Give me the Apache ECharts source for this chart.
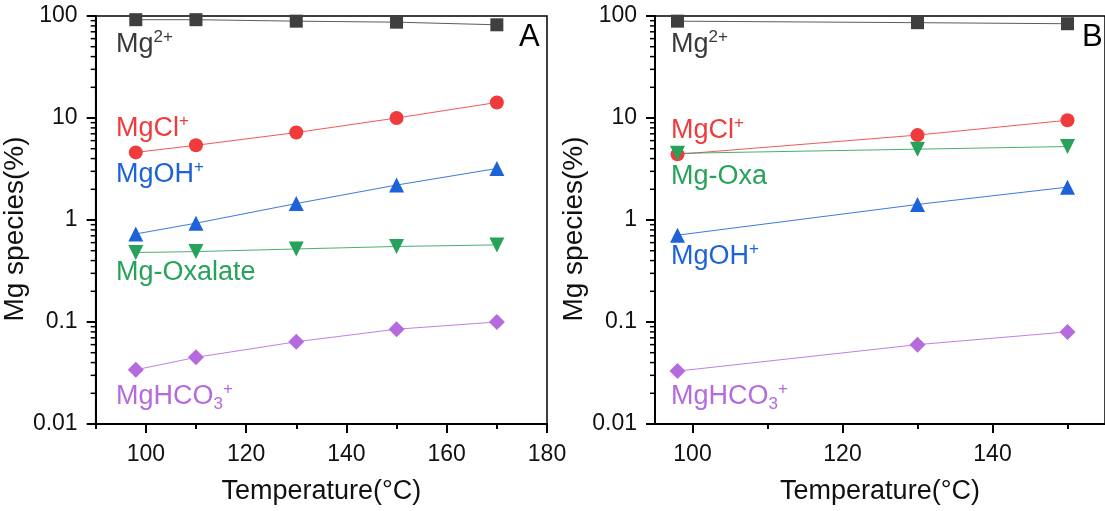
<!DOCTYPE html>
<html>
<head>
<meta charset="utf-8">
<script src="https://cdn.jsdelivr.net/npm/echarts@6/dist/echarts.min.js"></script>
<style>
  html, body { margin: 0; padding: 0; background: #fff; }
  #chart { width: 1105px; height: 511px; }
</style>
</head>
<body>
<div id="chart"></div>
<script>
// panel A: temperatures and species (%)
const tempA = [98, 110, 130, 150, 170]
const mg2A = [92, 92, 89, 87, 82]
const mgclA = [4.6, 5.4, 7.2, 10, 14.2]
const mgohA = [0.73, 0.93, 1.45, 2.2, 3.2]
const oxaA = [0.48, 0.49, 0.52, 0.55, 0.57]
const hco3A = [0.034, 0.045, 0.064, 0.085, 0.10]

// panel B
const tempB = [98, 130, 150]
const mg2B = [89, 86, 84]
const mgclB = [4.4, 6.8, 9.5]
const oxaB = [4.5, 4.95, 5.25]
const mgohB = [0.71, 1.42, 2.1]
const hco3B = [0.033, 0.06, 0.08]

// ticks
const xTicksA = [100, 120, 140, 160, 180]
const xMinorA = [90, 110, 130, 150, 170]
const xTicksB = [100, 120, 140]
const xMinorB = [110, 130, 150]
const yTicks = [0.01, 0.1, 1, 10, 100]
const yTickLabels = ['0.01', '0.1', '1', '10', '100']
const yMinor = [
  0.02, 0.03, 0.04, 0.05, 0.06, 0.07, 0.08, 0.09,
  0.2, 0.3, 0.4, 0.5, 0.6, 0.7, 0.8, 0.9,
  2, 3, 4, 5, 6, 7, 8, 9,
  20, 30, 40, 50, 60, 70, 80, 90
]

const ff = "'Liberation Sans', Arial, sans-serif"
const black = '#000'

const colors = {
  mg2: '#3f3f3f',
  mgcl: '#ef3b3b',
  mgoh: '#1c62d9',
  oxa: '#27a25b',
  hco3: '#b56ade'
}

function pairs(xs, ys) {
  return xs.map((x, i) => [x, ys[i]])
}

function xMain(grid, min, max, ticks) {
  return {
    type: 'value', gridIndex: grid, min: min, max: max, position: 'bottom',
    axisLine: { onZero: false, lineStyle: { color: black, width: 2 } },
    axisTick: { customValues: ticks, length: 9, lineStyle: { color: black, width: 2 } },
    axisLabel: { customValues: ticks, fontSize: 23, color: '#111', fontFamily: ff, margin: 19 },
    splitLine: { show: false },
    name: 'Temperature(°C)', nameLocation: 'middle', nameGap: 54,
    nameTextStyle: { fontSize: 27, color: '#111', fontFamily: ff }
  }
}

function xMinor(grid, min, max, ticks) {
  return {
    type: 'value', gridIndex: grid, min: min, max: max, position: 'bottom',
    axisLine: { show: false, onZero: false },
    axisTick: { customValues: ticks, length: 5, lineStyle: { color: black, width: 2 } },
    axisLabel: { show: false },
    splitLine: { show: false }
  }
}

function yMain(grid) {
  return {
    type: 'log', logBase: 10, gridIndex: grid, min: 0.01, max: 100, position: 'left',
    axisLine: { show: true, onZero: false, lineStyle: { color: black, width: 2 } },
    axisTick: { show: true, length: 9, lineStyle: { color: black, width: 2 } },
    axisLabel: {
      fontSize: 23, color: '#111', fontFamily: ff, margin: 18,
      formatter: v => yTickLabels[yTicks.findIndex(t => Math.abs(t - v) / t < 1e-6)] || ''
    },
    splitLine: { show: false },
    name: 'Mg species(%)', nameLocation: 'middle', nameGap: 53,
    nameTextStyle: { fontSize: 28, color: '#111', fontFamily: ff, padding: [0, 18, 0, 0] }
  }
}

function line(name, grid, xs, ys, color, symbol, size, rotate) {
  return {
    name: name, type: 'line', xAxisIndex: grid, yAxisIndex: grid,
    data: pairs(xs, ys),
    symbol: symbol, symbolSize: size, symbolRotate: rotate || 0, showSymbol: true,
    itemStyle: { color: color, opacity: 1 },
    lineStyle: { color: color, width: 1, opacity: 0.85 },
    z: 3
  }
}

// short minor ticks on the log axis, placed through the axis scale
function minorTicks(grid, xMin) {
  return {
    type: 'custom', coordinateSystem: 'cartesian2d', xAxisIndex: grid, yAxisIndex: grid,
    silent: true, clip: false, z: 20,
    encode: { x: 0, y: 1 },
    data: yMinor.map(v => [xMin, v]),
    renderItem: function (params, api) {
      const p = api.coord([api.value(0), api.value(1)])
      return {
        type: 'line',
        shape: { x1: p[0] - 5, y1: p[1], x2: p[0], y2: p[1] },
        style: { stroke: black, lineWidth: 1.5 }
      }
    }
  }
}

// annotation text with super/subscripts
const rich = {
  m: { fontSize: 27, lineHeight: 32, fontFamily: ff },
  s: { fontSize: 17, lineHeight: 16, fontFamily: ff, verticalAlign: 'top' },
  b: { fontSize: 17, lineHeight: 14, fontFamily: ff, verticalAlign: 'bottom' }
}
function note(x, y, text, color) {
  const r = {}
  for (const k in rich) r[k] = Object.assign({ fill: color }, rich[k])
  return {
    type: 'text', x: x, y: y, z: 10,
    style: { text: text, fill: color, font: '27px ' + ff, verticalAlign: 'middle', align: 'left', rich: r }
  }
}

const chart = echarts.init(document.getElementById('chart'))
chart.setOption({
  animation: false,
  backgroundColor: '#fff',
  grid: [
    { left: 91, top: 16, width: 456, height: 408, show: true, borderColor: black, borderWidth: 1.5, backgroundColor: 'transparent' },
    { left: 655, top: 16, width: 458, height: 408, show: true, borderColor: black, borderWidth: 1.5, backgroundColor: 'transparent' }
  ],
  xAxis: [
    xMain(0, 90, 180, xTicksA),
    xMain(1, 95, 155, xTicksB),
    xMinor(0, 90, 180, xMinorA),
    xMinor(1, 95, 155, xMinorB)
  ],
  yAxis: [yMain(0), yMain(1)],
  series: [
    minorTicks(0, 90),
    minorTicks(1, 95),
    line('Mg2+', 0, tempA, mg2A, colors.mg2, 'rect', 13),
    line('MgCl+', 0, tempA, mgclA, colors.mgcl, 'circle', 14),
    line('MgOH+', 0, tempA, mgohA, colors.mgoh, 'triangle', 15),
    line('Mg-Oxalate', 0, tempA, oxaA, colors.oxa, 'triangle', 15, 180),
    line('MgHCO3+', 0, tempA, hco3A, colors.hco3, 'diamond', 16),
    line('Mg2+', 1, tempB, mg2B, colors.mg2, 'rect', 13),
    line('MgCl+', 1, tempB, mgclB, colors.mgcl, 'circle', 14),
    line('MgOH+', 1, tempB, mgohB, colors.mgoh, 'triangle', 15),
    line('Mg-Oxa', 1, tempB, oxaB, colors.oxa, 'triangle', 15, 180),
    line('MgHCO3+', 1, tempB, hco3B, colors.hco3, 'diamond', 16)
  ],
  graphic: [
    note(116, 45, '{m|Mg}{s|2+}', '#3a3a3a'),
    note(116, 129, '{m|MgCl}{s|+}', colors.mgcl),
    note(116, 175, '{m|MgOH}{s|+}', colors.mgoh),
    note(116, 273, '{m|Mg-Oxalate}', colors.oxa),
    note(116, 397, '{m|MgHCO}{b|3}{s|+}', colors.hco3),
    note(671, 45, '{m|Mg}{s|2+}', '#3a3a3a'),
    note(671, 131, '{m|MgCl}{s|+}', colors.mgcl),
    note(671, 177, '{m|Mg-Oxa}', colors.oxa),
    note(671, 257, '{m|MgOH}{s|+}', colors.mgoh),
    note(671, 397, '{m|MgHCO}{b|3}{s|+}', colors.hco3),
    { type: 'text', x: 519, y: 37, z: 10, style: { text: 'A', font: '31px ' + ff, fill: '#000', verticalAlign: 'middle' } },
    { type: 'text', x: 1082, y: 37, z: 10, style: { text: 'B', font: '31px ' + ff, fill: '#000', verticalAlign: 'middle' } }
  ]
})
</script>
</body>
</html>
